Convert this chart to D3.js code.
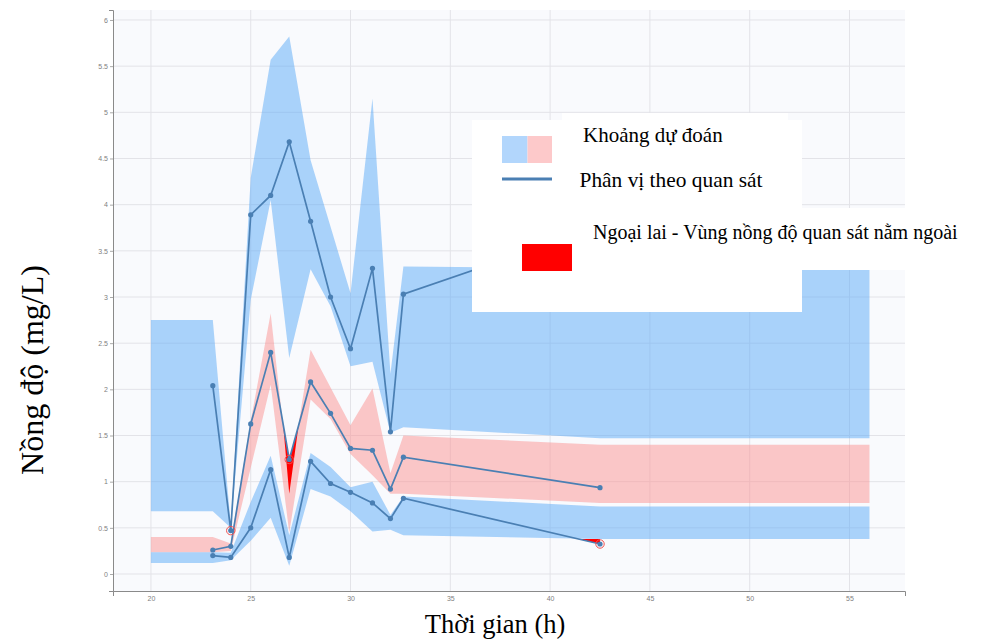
<!DOCTYPE html>
<html><head><meta charset="utf-8">
<script src="https://cdn.jsdelivr.net/npm/d3@7"></script>
<style>body{margin:0;background:#fff}svg{display:block}</style>
</head><body>
<svg id="c" width="985" height="639"></svg>
<script>
// ---- data ----
const obsTimes  = [23.1, 24, 25, 26, 26.93, 28, 29, 30, 31.1, 32, 32.65, 42.5];
const obsUpper  = [2.04, 0.47, 3.89, 4.10, 4.68, 3.82, 3.00, 2.44, 3.31, 1.54, 3.03, 3.76];
const obsMedian = [0.26, 0.30, 1.625, 2.40, 1.24, 2.08, 1.74, 1.36, 1.34, 0.92, 1.265, 0.935];
const obsLower  = [0.20, 0.18, 0.50, 1.13, 0.18, 1.22, 0.98, 0.885, 0.77, 0.60, 0.82, 0.325];

const bandTimes = [20, 23.1, 24, 25, 26, 26.93, 28, 29, 30, 31.1, 32, 32.65, 42.5, 56];
const upperLo  = [0.68, 0.68, 0.50, 2.97, 4.05, 2.34, 3.30, 2.90, 2.25, 2.30, 1.53, 1.59, 1.47, 1.47];
const upperHi  = [2.75, 2.75, 0.53, 4.29, 5.57, 5.82, 4.48, 3.76, 3.04, 5.15, 2.17, 3.33, 3.31, 3.30];
const medianLo = [0.235, 0.235, 0.25, 1.15, 2.05, 0.45, 1.89, 1.68, 1.30, 1.07, 0.87, 0.87, 0.77, 0.77];
const medianHi = [0.40, 0.40, 0.33, 1.66, 2.82, 1.00, 2.43, 2.02, 1.61, 2.01, 1.09, 1.50, 1.40, 1.40];
const lowerLo  = [0.12, 0.12, 0.15, 0.36, 0.61, 0.09, 0.92, 0.84, 0.68, 0.46, 0.48, 0.42, 0.38, 0.38];
const lowerHi  = [0.235, 0.235, 0.23, 0.78, 1.28, 0.42, 1.31, 1.16, 0.94, 1.00, 0.64, 0.84, 0.73, 0.73];

// outlier regions (observed outside prediction interval)
const outlierA_t  = [26.63, 26.93, 27.4];
const outlierA_lo = [1.60, 0.87, 1.61];
const outlierA_hi = [1.60, 1.24, 1.61];
const outlierB_t  = [41.4, 42.5];
const outlierB_lo = [0.38, 0.325];
const outlierB_hi = [0.38, 0.38];
// outlier points: [series, index]
const outlierPts = [["upper", 1], ["median", 4], ["lower", 11]];

const yTicks = [0, 0.5, 1, 1.5, 2, 2.5, 3, 3.5, 4, 4.5, 5, 5.5, 6];
const xTicks = [20, 25, 30, 35, 40, 45, 50, 55];

const legendLabels = ["Khoảng dự đoán", "Phân vị theo quan sát", "Ngoại lai - Vùng nồng độ quan sát nằm ngoài"];
const xTitle = "Thời gian (h)";
const yTitle = "Nồng độ (mg/L)";

// ---- drawing ----
const svg = d3.select("#c");
const x = d3.scaleLinear().domain([18.1, 57.78]).range([113, 905]);
const y = d3.scaleLinear().domain([-0.184, 6.108]).range([591, 10]);

svg.append("rect").attr("x", 113).attr("y", 10).attr("width", 792).attr("height", 581).attr("fill", "#f9fafd");

// grid
svg.append("g").selectAll("line").data(yTicks).join("line")
  .attr("x1", 113).attr("x2", 905).attr("y1", d => y(d)).attr("y2", d => y(d))
  .attr("stroke", "#e3e3e8").attr("stroke-width", 1);
svg.append("g").selectAll("line").data(xTicks).join("line")
  .attr("y1", 10).attr("y2", 591).attr("x1", d => x(d)).attr("x2", d => x(d))
  .attr("stroke", "#e3e3e8").attr("stroke-width", 1);

function band(ts, lo, hi) {
  return ts.map((t, i) => ({t, lo: lo[i], hi: hi[i]}));
}
const area = d3.area().x(d => x(d.t)).y0(d => y(d.lo)).y1(d => y(d.hi));

const blue = "#5aa9f7", pink = "#fc9192";
svg.append("path").datum(band(bandTimes, upperLo, upperHi)).attr("d", area).attr("fill", blue).attr("fill-opacity", 0.5);
svg.append("path").datum(band(bandTimes, medianLo, medianHi)).attr("d", area).attr("fill", pink).attr("fill-opacity", 0.5);
svg.append("path").datum(band(bandTimes, lowerLo, lowerHi)).attr("d", area).attr("fill", blue).attr("fill-opacity", 0.5);

svg.append("path").datum(band(outlierA_t, outlierA_lo, outlierA_hi)).attr("d", area).attr("fill", "#ff0000");
svg.append("path").datum(band(outlierB_t, outlierB_lo, outlierB_hi)).attr("d", area).attr("fill", "#ff0000");

// observed lines
const series = {upper: obsUpper, median: obsMedian, lower: obsLower};
const lineGen = d3.line().x(d => x(d.t)).y(d => y(d.v));
const lineColor = "#4a7fb3";
Object.values(series).forEach(vals => {
  const pts = obsTimes.map((t, i) => ({t, v: vals[i]}));
  svg.append("path").datum(pts).attr("d", lineGen).attr("fill", "none")
    .attr("stroke", lineColor).attr("stroke-width", 1.7);
  svg.append("g").selectAll("circle").data(pts).join("circle")
    .attr("cx", d => x(d.t)).attr("cy", d => y(d.v)).attr("r", 2.6).attr("fill", lineColor);
});
svg.append("g").selectAll("circle").data(outlierPts).join("circle")
  .attr("cx", d => x(obsTimes[d[1]])).attr("cy", d => y(series[d[0]][d[1]])).attr("r", 4.2)
  .attr("fill", "none").attr("stroke", "#f05050").attr("stroke-width", 1);

// axes
const yAxis = svg.append("g").attr("transform", "translate(113,0)")
  .call(d3.axisLeft(y).tickValues(yTicks).tickFormat(d3.format("")).tickSize(3).tickSizeOuter(4).tickPadding(2));
const xAxis = svg.append("g").attr("transform", "translate(0,591)")
  .call(d3.axisBottom(x).tickValues(xTicks).tickFormat(d3.format("")).tickSize(0).tickSizeOuter(5).tickPadding(5));
[yAxis, xAxis].forEach(a => {
  a.select(".domain").attr("stroke", "#8a8a8a");
  a.selectAll(".tick line").attr("stroke", "#aaa");
  a.selectAll("text").attr("fill", "#808080").attr("font-family", "Liberation Sans, Arial, sans-serif").attr("font-size", 7);
});

// axis titles
svg.append("text").attr("x", 495).attr("y", 633).attr("text-anchor", "middle")
  .attr("font-family", "Liberation Serif, Times New Roman, serif").attr("font-size", 26.5).text(xTitle);
svg.append("text").attr("transform", "translate(43,370) rotate(-90)").attr("text-anchor", "middle")
  .attr("font-family", "Liberation Serif, Times New Roman, serif").attr("font-size", 32).text(yTitle);

// legend
const lg = svg.append("g");
lg.append("rect").attr("x", 562).attr("y", 113).attr("width", 226).attr("height", 10).attr("fill", "#fff");
lg.append("rect").attr("x", 472).attr("y", 120).attr("width", 330).attr("height", 192).attr("fill", "#fff");
lg.append("rect").attr("x", 802).attr("y", 208).attr("width", 160).attr("height", 62).attr("fill", "#fff");
lg.append("rect").attr("x", 502).attr("y", 136).attr("width", 25.5).attr("height", 27).attr("fill", "#b2d6fc");
lg.append("rect").attr("x", 527.5).attr("y", 136).attr("width", 24.5).attr("height", 27).attr("fill", "#fdc9ca");
lg.append("line").attr("x1", 502).attr("x2", 552).attr("y1", 179).attr("y2", 179)
  .attr("stroke", lineColor).attr("stroke-width", 3.2);
lg.append("rect").attr("x", 522).attr("y", 244).attr("width", 50).attr("height", 27).attr("fill", "#ff0000");
const lt = [[583, 141.5, 21], [579.5, 187, 21.4], [593, 238.5, 20]];
lg.selectAll("text.l").data(legendLabels).join("text").attr("class", "l")
  .attr("x", (d, i) => lt[i][0]).attr("y", (d, i) => lt[i][1])
  .attr("font-family", "Liberation Serif, Times New Roman, serif").attr("font-size", (d, i) => lt[i][2]).attr("fill", "#000")
  .text(d => d);
</script>
</body></html>
